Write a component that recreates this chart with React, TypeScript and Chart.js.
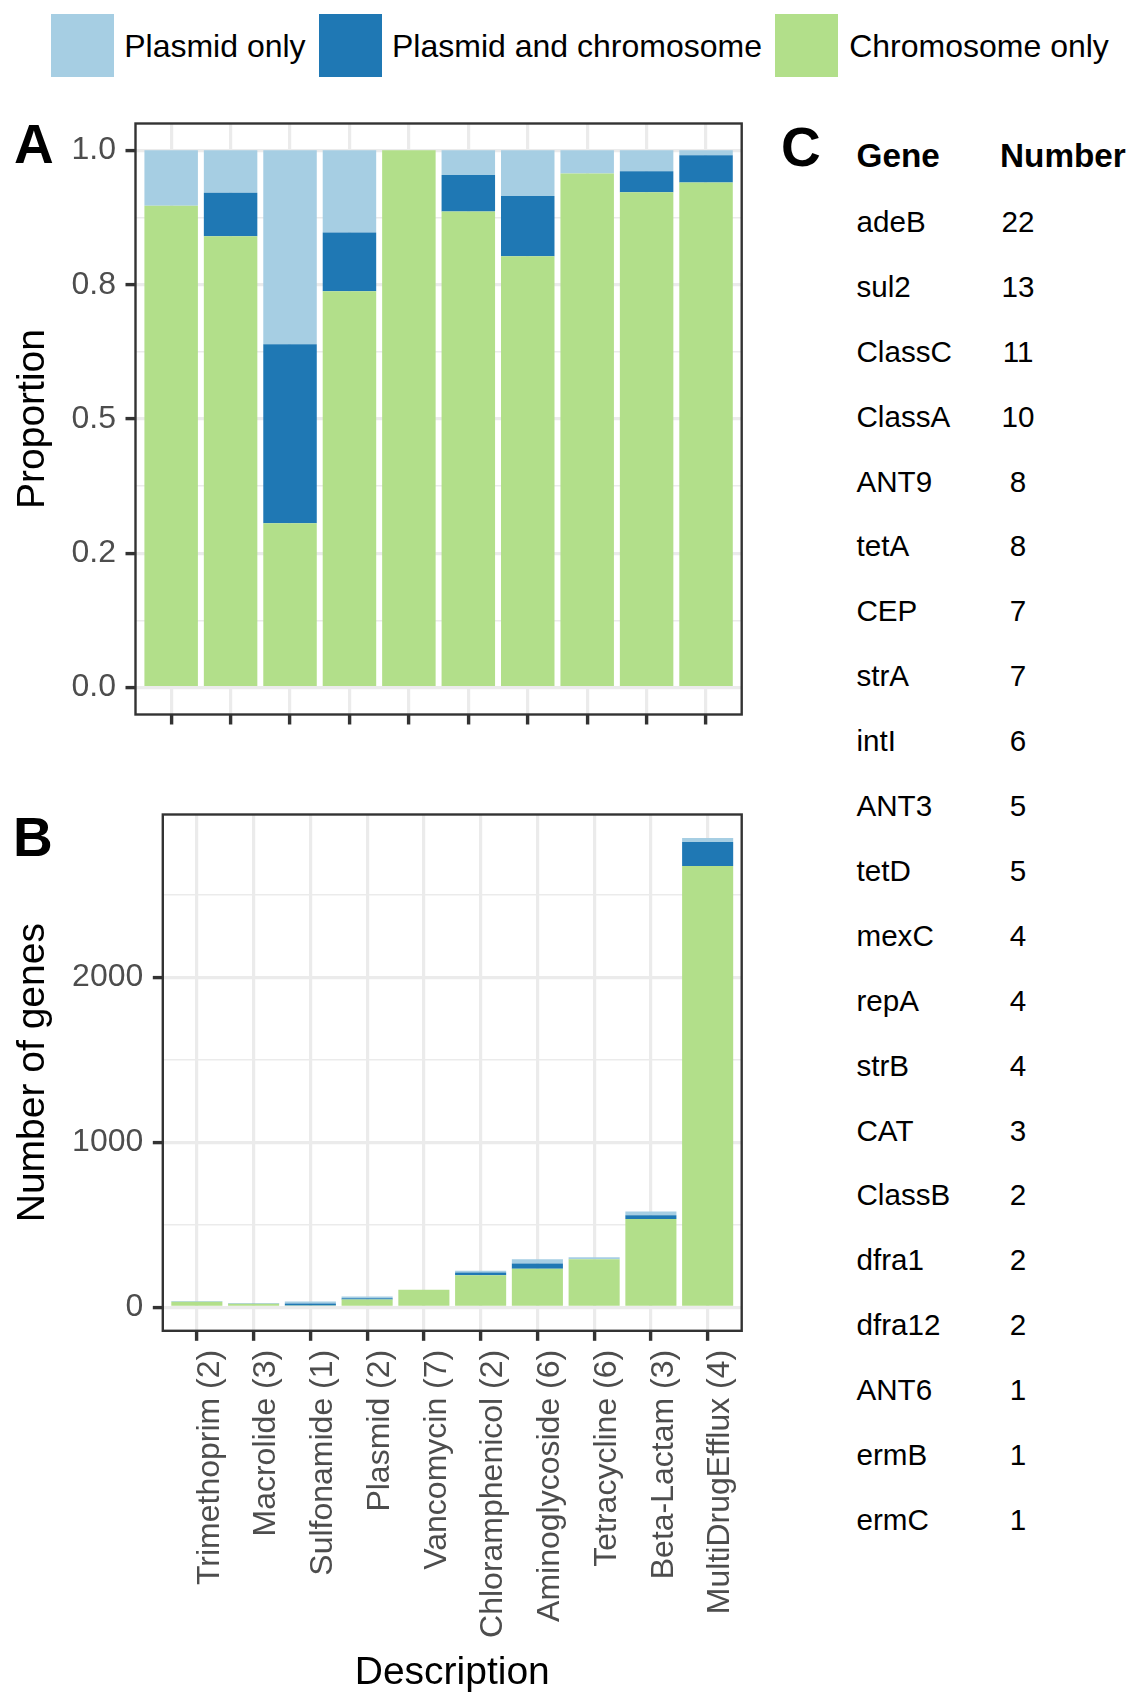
import React, { useEffect, useRef } from "react";
import { Chart, registerables } from "chart.js";

Chart.register(...registerables);

const FONT = "'Liberation Sans', Arial, Helvetica, sans-serif";
Chart.defaults.font.family = FONT;

// ---------------- data ----------------
const categories = [
  "Trimethoprim (2)",
  "Macrolide (3)",
  "Sulfonamide (1)",
  "Plasmid (2)",
  "Vancomycin (7)",
  "Chloramphenicol (2)",
  "Aminoglycoside (6)",
  "Tetracycline (6)",
  "Beta-Lactam (3)",
  "MultiDrugEfflux (4)",
];

const seriesNames = ["Plasmid only", "Plasmid and chromosome", "Chromosome only"];
const seriesColors = ["#A6CEE3", "#1F78B4", "#B2DF8A"];

// Panel A: proportions
const propChromosomeOnly = [0.897, 0.84, 0.306, 0.738, 1.0, 0.886, 0.803, 0.957, 0.922, 0.94];
const propPlasmidAndChromosome = [0.0, 0.081, 0.333, 0.109, 0.0, 0.068, 0.112, 0.0, 0.039, 0.051];
const propPlasmidOnly = [0.103, 0.079, 0.361, 0.153, 0.0, 0.046, 0.085, 0.043, 0.039, 0.009];

// Panel B: number of genes
const countChromosomeOnly = [34, 21, 11, 48, 106, 195, 234, 291, 535, 2675];
const countPlasmidAndChromosome = [0, 2, 12, 7, 0, 16, 32, 0, 23, 145];
const countPlasmidOnly = [4, 2, 13, 10, 0, 10, 26, 13, 23, 25];

const propTicks = [0, 0.25, 0.5, 0.75, 1];
const propTickLabels = ["0.0", "0.2", "0.5", "0.8", "1.0"];
const propMinorTicks = [0.125, 0.375, 0.625, 0.875];

const countTicks = [0, 1000, 2000];
const countTickLabels = ["0", "1000", "2000"];
const countMinorTicks = [500, 1500, 2500];

// Panel C: table
const genes = [
  "adeB", "sul2", "ClassC", "ClassA", "ANT9", "tetA", "CEP", "strA", "intI", "ANT3", "tetD",
  "mexC", "repA", "strB", "CAT", "ClassB", "dfra1", "dfra12", "ANT6", "ermB", "ermC",
];
const geneNumbers = [22, 13, 11, 10, 8, 8, 7, 7, 6, 5, 5, 4, 4, 4, 3, 2, 2, 2, 1, 1, 1];

// ---------------- chart helpers ----------------
const GRID = "#EBEBEB";
const DARK = "#333333";

const framePlugin = {
  id: "panelFrame",
  afterDraw(chart: any) {
    const { ctx, chartArea: a } = chart;
    ctx.save();
    ctx.strokeStyle = DARK;
    ctx.lineWidth = 2.4;
    ctx.strokeRect(a.left, a.top, a.right - a.left, a.bottom - a.top);
    ctx.restore();
  },
};

function isIn(list: number[], v: any) {
  if (typeof v !== "number") return false;
  return list.some((t) => Math.abs(t - v) < 1e-6);
}

type Cfg = {
  green: number[];
  dark: number[];
  light: number[];
  yMin: number;
  yMax: number;
  majorTicks: number[];
  majorLabels: string[];
  minorTicks: number[];
  yTitle: string;
  showXLabels: boolean;
  xTitle?: string;
  yAxisWidth: number;
  xAxisHeight: number;
  padTop: number;
  padRight: number;
};

function makeConfig(o: Cfg): any {
  const mk = (label: string, color: string, vals: number[]) => ({
    label,
    data: categories.map((_, i) => ({ x: i + 1, y: vals[i] })),
    backgroundColor: color,
    borderWidth: 0,
    categoryPercentage: 0.9,
    barPercentage: 1,
    stack: "all",
  });
  const datasets = [
    mk(seriesNames[2], seriesColors[2], o.green),
    mk(seriesNames[1], seriesColors[1], o.dark),
    mk(seriesNames[0], seriesColors[0], o.light),
  ];
  const allY = [...o.majorTicks, ...o.minorTicks].sort((a, b) => a - b);
  return {
    type: "bar",
    data: { datasets },
    options: {
      animation: false,
      responsive: false,
      maintainAspectRatio: false,
      layout: { padding: { top: o.padTop, right: o.padRight, left: 0, bottom: 0 } },
      plugins: { legend: { display: false }, tooltip: { enabled: false } },
      scales: {
        x: {
          type: "linear",
          min: 0.4,
          max: categories.length + 0.6,
          offset: false,
          afterBuildTicks: (s: any) => {
            s.ticks = categories.map((_, i) => ({ value: i + 1 }));
          },
          afterFit: (s: any) => {
            s.height = o.xAxisHeight;
            s.paddingLeft = 0;
            s.paddingRight = 0;
          },
          grid: {
            offset: false,
            color: GRID,
            lineWidth: 3.2,
            drawTicks: true,
            tickLength: 10,
            tickColor: DARK,
            tickWidth: 3.4,
          },
          border: { display: false },
          ticks: {
            display: o.showXLabels,
            autoSkip: false,
            minRotation: 90,
            maxRotation: 90,
            padding: 9,
            labelOffset: 13,
            color: "#4D4D4D",
            font: { size: 32 },
            callback: (v: any) => categories[Math.round(v) - 1] ?? "",
          },
          title: o.xTitle
            ? {
                display: true,
                text: o.xTitle,
                color: "#000000",
                font: { size: 39, lineHeight: 1.05 },
                padding: { top: 0, bottom: 0 },
              }
            : { display: false },
        },
        y: {
          type: "linear",
          stacked: true,
          min: o.yMin,
          max: o.yMax,
          afterBuildTicks: (s: any) => {
            s.ticks = allY.map((v) => ({ value: v }));
          },
          afterFit: (s: any) => {
            s.width = o.yAxisWidth;
            s.paddingTop = 0;
            s.paddingBottom = 0;
          },
          grid: {
            color: GRID,
            lineWidth: (c: any) => (isIn(o.majorTicks, c.tick && c.tick.value) ? 3.2 : 1.6),
            drawTicks: true,
            tickLength: 10,
            tickColor: (c: any) => (isIn(o.majorTicks, c.tick && c.tick.value) ? DARK : "rgba(0,0,0,0)"),
            tickWidth: 3.4,
          },
          border: { display: false },
          ticks: {
            padding: 9.5,
            color: "#4D4D4D",
            font: { size: 32 },
            autoSkip: false,
            callback: (v: any) => {
              const i = o.majorTicks.findIndex((t) => Math.abs(t - v) < 1e-6);
              return i >= 0 ? o.majorLabels[i] : "";
            },
          },
          title: {
            display: true,
            text: o.yTitle,
            color: "#000000",
            font: { size: 39 },
            padding: { top: 9.5, bottom: 0 },
          },
        },
      },
    },
    plugins: [framePlugin],
  };
}

function ChartCanvas(props: { cfg: () => any; left: number; top: number; width: number; height: number }) {
  const ref = useRef<HTMLCanvasElement>(null);
  useEffect(() => {
    if (!ref.current) return;
    const chart = new Chart(ref.current, props.cfg());
    return () => chart.destroy();
  }, []);
  return (
    <canvas
      ref={ref}
      width={props.width}
      height={props.height}
      style={{ position: "absolute", left: props.left, top: props.top, width: props.width, height: props.height }}
    />
  );
}

function Txt(props: {
  x: number;
  baseline: number;
  size: number;
  bold?: boolean;
  center?: boolean;
  children: React.ReactNode;
}) {
  const { x, baseline, size, bold, center } = props;
  const style: React.CSSProperties = {
    position: "absolute",
    top: baseline - 0.8465 * size,
    fontSize: size,
    lineHeight: `${size}px`,
    fontWeight: bold ? 700 : 400,
    whiteSpace: "nowrap",
    color: "#000000",
    fontFamily: FONT,
  };
  if (center) {
    style.left = x - 60;
    style.width = 120;
    style.textAlign = "center";
  } else {
    style.left = x;
  }
  return <div style={style}>{props.children}</div>;
}

const countMax = Math.max(
  ...categories.map((_, i) => countChromosomeOnly[i] + countPlasmidAndChromosome[i] + countPlasmidOnly[i])
);

export default function App() {
  const cfgA = () =>
    makeConfig({
      green: propChromosomeOnly,
      dark: propPlasmidAndChromosome,
      light: propPlasmidOnly,
      yMin: -0.05,
      yMax: 1.05,
      majorTicks: propTicks,
      majorLabels: propTickLabels,
      minorTicks: propMinorTicks,
      yTitle: "Proportion",
      showXLabels: false,
      yAxisWidth: 135.5,
      xAxisHeight: 660 - (714.5 - 100),
      padTop: 123.5 - 100,
      padRight: 760 - 741.7,
    });
  const cfgB = () =>
    makeConfig({
      green: countChromosomeOnly,
      dark: countPlasmidAndChromosome,
      light: countPlasmidOnly,
      yMin: -0.05 * countMax,
      yMax: 1.05 * countMax,
      majorTicks: countTicks,
      majorLabels: countTickLabels,
      minorTicks: countMinorTicks,
      yTitle: "Number of genes",
      showXLabels: true,
      xTitle: "Description",
      yAxisWidth: 162.8,
      xAxisHeight: 914 - (1330.8 - 780),
      padTop: 814.5 - 780,
      padRight: 760 - 741.7,
    });

  const legendItems = [
    { box: 51, text: 124.2 },
    { box: 318.6, text: 392 },
    { box: 774.8, text: 849.2 },
  ];

  return (
    <div
      style={{
        position: "absolute",
        left: 0,
        top: 0,
        width: 1134,
        height: 1694,
        background: "#ffffff",
        overflow: "hidden",
        fontFamily: FONT,
      }}
    >
      {/* legend */}
      {legendItems.map((it, i) => (
        <React.Fragment key={i}>
          <div
            style={{
              position: "absolute",
              left: it.box,
              top: 14,
              width: 63,
              height: 63,
              background: seriesColors[i],
            }}
          />
          <Txt x={it.text} baseline={57} size={32}>
            {seriesNames[i]}
          </Txt>
        </React.Fragment>
      ))}

      <ChartCanvas cfg={cfgA} left={0} top={100} width={760} height={660} />
      <ChartCanvas cfg={cfgB} left={0} top={780} width={760} height={914} />

      {/* panel tags */}
      <Txt x={14} baseline={163.3} size={55} bold>
        A
      </Txt>
      <Txt x={13} baseline={856.5} size={55} bold>
        B
      </Txt>
      <Txt x={781} baseline={167} size={55} bold>
        C
      </Txt>

      {/* table */}
      <Txt x={856.5} baseline={167.5} size={33.3} bold>
        Gene
      </Txt>
      <Txt x={1000} baseline={167.5} size={33.3} bold>
        Number
      </Txt>
      {genes.map((g, i) => (
        <React.Fragment key={g}>
          <Txt x={856.5} baseline={232 + 64.9 * i} size={29.6}>
            {g}
          </Txt>
          <Txt x={1018} baseline={232 + 64.9 * i} size={29.6} center>
            {geneNumbers[i]}
          </Txt>
        </React.Fragment>
      ))}
    </div>
  );
}
